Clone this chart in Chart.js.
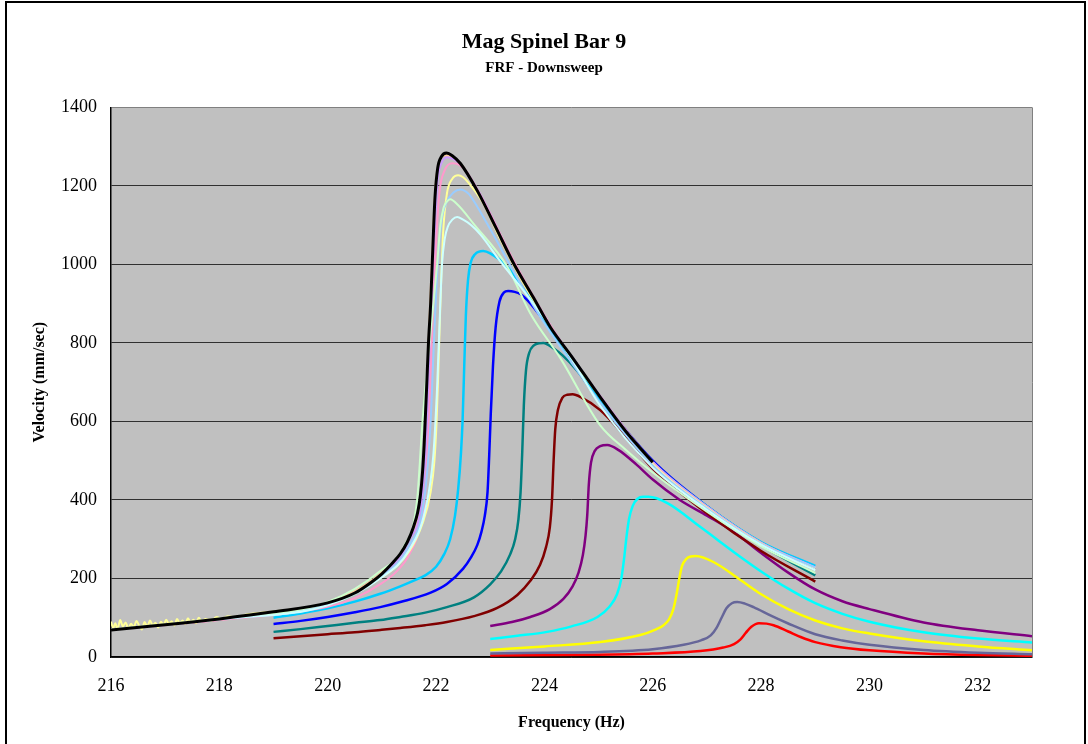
<!DOCTYPE html>
<html>
<head>
<meta charset="utf-8">
<title>Mag Spinel Bar 9</title>
<script src="https://cdn.jsdelivr.net/npm/chart.js@4.4.1/dist/chart.umd.min.js"></script>
<style>
  body { margin: 0; background: #ffffff; }
  #wrap { width: 1088px; height: 744px; }
</style>
</head>
<body>
<div id="wrap"><canvas id="myChart" width="1088" height="744"></canvas></div>
<script>
    //axis ticks
    const xTicks = [216, 218, 220, 222, 224, 226, 228, 230, 232];
    const yTicks = [0, 200, 400, 600, 800, 1000, 1200, 1400];

    //series names and colours (drawn top first)
    const seriesNames = ["black", "lightCyan", "lightGreen", "lightBlue", "lightYellow", "pink", "violet", "orange",
        "skyBlue", "blue", "teal", "darkRed", "purple", "cyan", "yellow", "slate", "red"];
    const seriesColors = ["#000000", "#ccffff", "#ccffcc", "#99ccff", "#ffff99", "#ff99cc", "#cc99ff", "#ffcc99",
        "#00ccff", "#0000ff", "#008080", "#800000", "#800080", "#00ffff", "#ffff00", "#666699", "#ff0000"];

    //[frequency, velocity]
    const blackPts = [[216,69],[217,82],[218,97],[219,115],[220,138],[220.5,163],[220.8,190],[221,212],[221.2,240],
        [221.34,263],[221.47,293],[221.58,330],[221.66,368],[221.71,410],[221.75,470],[221.78,540],[221.8,603],
        [221.83,700],[221.86,800],[221.9,900],[221.94,1040],[221.98,1170],[222.03,1245],[222.1,1275],[222.19,1284],
        [222.3,1277],[222.45,1257],[222.76,1188],[223.1,1095],[223.43,1003],[223.8,915],[224.11,840],[224.5,766],
        [225.03,662],[225.5,575],[226,496]];
    const orangePts = [[216,70],[218,98],[220,139],[221,216],[221.5,302],[221.72,405],[221.81,600],[221.86,800],
        [221.92,1000],[221.99,1200],[222.07,1265],[222.17,1278],[222.32,1270],[222.47,1254],[222.78,1186],[223.45,1000],
        [224.13,838],[225.05,660],[226,497],[227,383],[228,291],[229,227]];
    const violetPts = [[216,70],[218,97],[220,136],[221,210],[221.5,296],[221.74,405],[221.84,600],[221.89,800],
        [221.95,1000],[222.02,1200],[222.1,1258],[222.22,1273],[222.35,1266],[222.5,1248],[222.8,1183],[223.47,998],
        [224.15,836],[225.07,658],[226,496],[227,383],[228,291],[229,228]];
    const pinkPts = [[216,69],[218,94],[220,128],[220.5,150],[221,188],[221.3,222],[221.5,260],[221.7,330],[221.8,420],
        [221.87,600],[221.92,800],[221.98,1000],[222.06,1180],[222.16,1240],[222.3,1258],[222.42,1254],[222.55,1238],
        [222.82,1176],[223.5,992],[224.17,832],[225.08,655],[226,494],[227,381],[228,290],[229,227]];
    const lightYellowPts = [[216,90],[216.04,74],[216.08,86],[216.12,71],[216.17,94],[216.22,78],[216.27,88],[216.32,73],
        [216.37,85],[216.42,76],[216.47,92],[216.52,80],[216.57,70],[216.62,89],[216.67,77],[216.72,93],[216.77,81],
        [216.82,87],[216.87,75],[216.92,90],[216.97,82],[217.02,95],[217.07,84],[217.12,91],[217.17,80],[217.22,97],
        [217.27,86],[217.32,93],[217.37,84],[217.42,99],[217.47,88],[217.52,95],[217.57,86],[217.62,100],[217.67,91],
        [217.75,97],[217.85,92],[217.95,102],[218.05,96],[218.15,104],[218.3,101],[218.5,108],[219,116],[220,136],
        [221,203],[221.5,268],[221.75,340],[221.9,420],[221.97,500],[222.01,600],[222.04,720],[222.08,900],
        [222.13,1080],[222.2,1180],[222.3,1218],[222.41,1227],[222.5,1222],[222.6,1208],[222.85,1160],[223.2,1060],
        [223.6,955],[224.2,822],[225.1,648],[226,492],[227,380],[228,289],[229,226]];
    const lightBluePts = [[216,69],[218,96],[220,134],[221,206],[221.5,283],[221.78,400],[221.9,600],[221.96,800],
        [222.03,1000],[222.1,1110],[222.2,1160],[222.32,1183],[222.45,1191],[222.6,1180],[222.69,1163],[223,1090],
        [223.5,965],[223.93,865],[224.5,750],[225.03,648],[226,488],[227,378],[228,288],[229,228]];
    const lightGreenPts = [[216,70],[218,98],[220,140],[221,222],[221.4,280],[221.65,400],[221.75,600],[221.88,800],
        [222.02,1000],[222.08,1100],[222.14,1145],[222.2,1160],[222.26,1166],[222.4,1152],[222.69,1104],[223.32,993],
        [223.74,875],[224.3,760],[225.03,590],[225.5,528],[226,470],[227,370],[228,282],[229,214]];
    const lightCyanPts = [[216,69],[218,96],[220,132],[221,203],[221.5,272],[221.8,375],[221.95,515],[222.02,690],
        [222.07,870],[222.11,1000],[222.16,1065],[222.22,1097],[222.3,1114],[222.39,1121],[222.5,1114],[222.65,1100],
        [222.82,1076],[223.2,1005],[223.61,934],[223.93,875],[224.5,760],[225.03,640],[226,482],[227,375],[228,286],
        [229,221]];
    const skyBluePts = [[219,100],[219.5,111],[220,124],[220.5,141],[220.97,161],[221.34,180],[221.6,195],[221.8,208],
        [222,230],[222.15,262],[222.26,300],[222.35,360],[222.41,430],[222.46,520],[222.49,603],[222.52,740],
        [222.55,870],[222.59,960],[222.64,1005],[222.72,1026],[222.87,1034],[223,1028],[223.32,993],[223.6,940],
        [224.11,835],[224.5,760],[225.03,655],[226,496],[227,384],[228,293],[229,232]];
    const bluePts = [[219,84],[219.5,92],[220,102],[220.5,114],[220.97,127],[221.34,140],[221.9,164],[222.2,186],
        [222.5,225],[222.65,255],[222.76,285],[222.84,320],[222.9,360],[222.95,420],[222.98,510],[223.01,620],
        [223.05,740],[223.1,840],[223.17,905],[223.25,928],[223.33,932],[223.45,930],[223.56,924],[223.74,901],
        [224,855],[224.5,765],[225.03,661],[226,500],[227,384],[228,291],[229,226]];
    const tealPts = [[219,64],[219.5,71],[220,79],[220.5,87],[220.97,94],[221.34,102],[221.8,113],[222.2,127],
        [222.7,152],[223,185],[223.2,218],[223.37,262],[223.46,300],[223.52,350],[223.56,420],[223.59,519],
        [223.62,640],[223.66,730],[223.72,775],[223.8,793],[223.9,799],[223.98,800],[224.17,786],[224.33,769],
        [224.6,730],[225.03,650],[226,490],[227,376],[228,284],[229,208]];
    const darkRedPts = [[219,48],[219.5,53],[220,58],[220.5,63],[220.97,69],[221.34,74],[221.8,81],[222.2,89],
        [222.7,104],[223.13,125],[223.5,158],[223.74,194],[223.92,235],[224.03,280],[224.1,330],[224.14,400],
        [224.17,500],[224.2,580],[224.25,630],[224.33,660],[224.42,668],[224.52,669],[224.67,662],[225.03,629],
        [225.5,560],[226,480],[227,366],[228,270],[229,192]];
    const purplePts = [[223,79],[223.4,89],[223.74,102],[224.1,122],[224.35,148],[224.52,180],[224.63,215],[224.71,260],
        [224.76,310],[224.79,360],[224.82,440],[224.86,495],[224.93,525],[225.03,537],[225.16,540],[225.37,527],
        [225.7,490],[226,452],[226.5,400],[227,360],[227.5,318],[228,265],[228.5,215],[229,172],[229.5,142],
        [230,122],[231,88],[232,68],[233,53]];
    const cyanPts = [[223,46],[223.5,54],[224.05,64],[224.5,78],[224.98,102],[225.2,128],[225.34,160],[225.42,200],
        [225.47,250],[225.51,300],[225.56,350],[225.63,385],[225.72,403],[225.82,408],[225.92,408],[226.27,392],
        [226.88,331],[227.62,255],[228,218],[228.5,174],[229,137],[229.5,110],[230,90],[231,63],[232,47],[233,37]];
    const yellowPts = [[223,18],[224,27],[225.03,38],[225.77,56],[226.05,70],[226.2,81],[226.3,96],[226.38,122],
        [226.44,160],[226.49,200],[226.54,232],[226.62,250],[226.7,256],[226.79,257],[227.12,242],[227.62,196],
        [228,160],[228.5,122],[229,93],[229.5,73],[230,60],[231,40],[232,27],[233,17]];
    const slatePts = [[223,9],[224,11],[225.03,13],[226,20],[226.57,31],[226.9,43],[227.07,55],[227.18,75],[227.27,100],
        [227.36,124],[227.46,137],[227.56,140],[227.7,136],[227.86,127],[228.2,104],[228.49,86],[229,58],[229.5,42],
        [230,31],[231,18],[232,11],[233,7]];
    const redPts = [[223,4],[225,6],[226,9],[226.88,15],[227.3,24],[227.5,33],[227.62,45],[227.72,62],[227.82,77],
        [227.96,86],[228.1,85],[228.23,81],[228.5,65],[228.73,51],[229,38],[229.47,25],[230,17],[231,9],[232,5],[233,3]];

    const seriesPoints = [blackPts, lightCyanPts, lightGreenPts, lightBluePts, lightYellowPts, pinkPts, violetPts, orangePts,
        skyBluePts, bluePts, tealPts, darkRedPts, purplePts, cyanPts, yellowPts, slatePts, redPts];

    const serif = "'Liberation Serif', 'Times New Roman', serif";

    //grey plot area, white page and the thin frame round it
    const excelLook = {
        id: 'excelLook',
        beforeDraw(chart) {
            const ctx = chart.ctx;
            const a = chart.chartArea;
            ctx.save();
            ctx.fillStyle = '#ffffff';
            ctx.fillRect(0, 0, chart.width, chart.height);
            ctx.fillStyle = '#c0c0c0';
            ctx.fillRect(a.left, a.top, a.right - a.left, a.bottom - a.top);
            ctx.restore();
        },
        afterDraw(chart) {
            const ctx = chart.ctx;
            const a = chart.chartArea;
            ctx.save();
            ctx.strokeStyle = '#808080';
            ctx.lineWidth = 1;
            ctx.beginPath();
            ctx.moveTo(a.right + 0.5, a.top);
            ctx.lineTo(a.right + 0.5, a.bottom);
            ctx.stroke();
            ctx.strokeStyle = '#000000';
            ctx.lineWidth = 2;
            ctx.strokeRect(6, 2, 1079, 800);
            ctx.restore();
        }
    };

    //build the datasets from the point lists
    function buildDatasets() {
        let sets = [];
        for (let i = 0; i < seriesPoints.length; i++) {
            let light = i >= 1 && i <= 7;
            sets.push({
                label: seriesNames[i],
                data: seriesPoints[i].map(p => ({x: p[0], y: p[1]})),
                borderColor: seriesColors[i],
                borderWidth: i == 0 ? 3 : (light ? 2 : 2.5),
                pointRadius: 0,
                fill: false,
                cubicInterpolationMode: 'monotone'
            });
        }
        return sets;
    }

    const config = {
        type: 'line',
        data: { datasets: buildDatasets() },
        plugins: [excelLook],
        options: {
            responsive: false,
            animation: false,
            layout: { padding: 0 },
            plugins: {
                legend: { display: false },
                tooltip: { enabled: false },
                title: {
                    display: true,
                    text: 'Mag Spinel Bar 9',
                    color: '#000',
                    font: { family: serif, size: 22, weight: 'bold' },
                    padding: { top: 29, bottom: 0 }
                },
                subtitle: {
                    display: true,
                    text: 'FRF - Downsweep',
                    color: '#000',
                    font: { family: serif, size: 15, weight: 'bold' },
                    padding: { top: 4, bottom: 30 }
                }
            },
            scales: {
                x: {
                    type: 'linear',
                    min: 216,
                    max: 233,
                    afterBuildTicks: s => { s.ticks = xTicks.map(v => ({ value: v })); },
                    afterFit: s => { s.height = 87; },
                    grid: { display: false, drawTicks: false },
                    border: { display: true, color: '#000', width: 1.5 },
                    ticks: { color: '#000', font: { family: serif, size: 18 }, padding: 18, maxRotation: 0,
                        callback: v => String(v) },
                    title: {
                        display: true,
                        text: 'Frequency (Hz)',
                        color: '#000',
                        font: { family: serif, size: 16, weight: 'bold' },
                        padding: { top: 0, bottom: 12 }
                    }
                },
                y: {
                    min: 0,
                    max: 1400,
                    afterBuildTicks: s => { s.ticks = yTicks.map(v => ({ value: v })); },
                    afterFit: s => { s.width = 111; },
                    grid: {
                        drawTicks: false,
                        color: c => (c.tick && c.tick.value == 1400) ? '#808080' : '#303030'
                    },
                    border: { display: true, color: '#000', width: 1.5 },
                    ticks: { color: '#000', font: { family: serif, size: 18 }, padding: 14,
                        callback: v => String(v) },
                    title: {
                        display: true,
                        text: 'Velocity (mm/sec)',
                        color: '#000',
                        font: { family: serif, size: 16, weight: 'bold' },
                        padding: { top: 30, bottom: 0 }
                    }
                },
                //empty right axis only keeps the plot clear of the right edge
                yRight: {
                    position: 'right',
                    display: true,
                    grid: { display: false, drawTicks: false },
                    border: { display: false },
                    ticks: { display: false },
                    afterFit: s => { s.width = 56; }
                }
            }
        }
    };

    let myChart = new Chart(document.getElementById('myChart'), config);
</script>
</body>
</html>
